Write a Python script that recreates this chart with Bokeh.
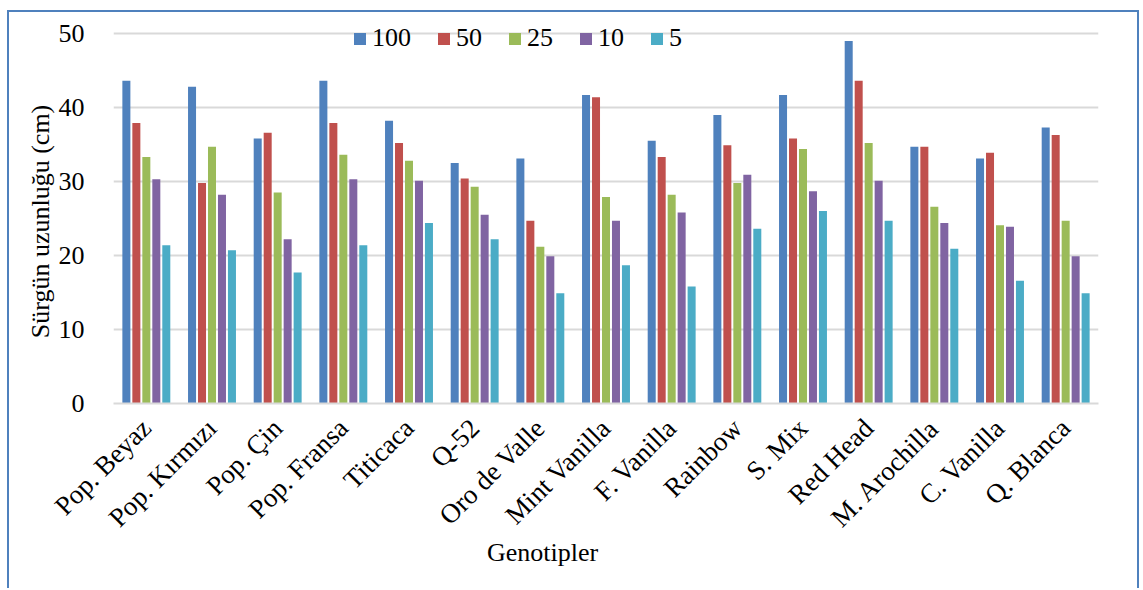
import math
from bokeh.plotting import figure
from bokeh.models import (ColumnDataSource, FixedTicker, Legend, LegendItem,
                          LinearAxis, Range1d)
from bokeh.embed import file_html
from bokeh.resources import INLINE

# Shoot length (cm) of each genotype at five dose levels
genotypes = [
    "Pop. Beyaz", "Pop. Kırmızı", "Pop. Çin", "Pop. Fransa", "Titicaca",
    "Q-52", "Oro de Valle", "Mint Vanilla", "F. Vanilla", "Rainbow",
    "S. Mix", "Red Head", "M. Arochilla", "C. Vanilla", "Q. Blanca",
]
dose_labels = ["100", "50", "25", "10", "5"]

d100 = [43.6, 42.8, 35.8, 43.6, 38.2, 32.5, 33.1, 41.7, 35.5, 39.0, 41.7, 49.0, 34.7, 33.1, 37.3]
d50 = [37.9, 29.8, 36.6, 37.9, 35.2, 30.4, 24.7, 41.4, 33.3, 34.9, 35.8, 43.6, 34.7, 33.9, 36.3]
d25 = [33.3, 34.7, 28.5, 33.6, 32.8, 29.3, 21.2, 27.9, 28.2, 29.8, 34.4, 35.2, 26.6, 24.1, 24.7]
d10 = [30.3, 28.2, 22.2, 30.3, 30.1, 25.5, 19.9, 24.7, 25.8, 30.9, 28.7, 30.1, 24.4, 23.9, 19.9]
d5 = [21.4, 20.7, 17.7, 21.4, 24.4, 22.2, 14.9, 18.7, 15.8, 23.6, 26.0, 24.7, 20.9, 16.6, 14.9]

series = [d100, d50, d25, d10, d5]
colors = ["#4F81BD", "#C0504D", "#9BBB59", "#8064A2", "#4BACC6"]
y_ticks = [0, 10, 20, 30, 40, 50]

FONT = "'Liberation Serif', 'Times New Roman', serif"
FS = "26px"

# each genotype occupies two x units; its slot centre is at 2*i + 1
centers = [2 * i + 1 for i in range(len(genotypes))]
step = 0.304
bar_w = 0.244
src = ColumnDataSource(dict(
    **{f"d{lab}": vals for lab, vals in zip(dose_labels, series)},
    **{f"x{lab}": [c + (k - 2) * step for c in centers] for k, lab in enumerate(dose_labels)},
))

# the frame reaches a little above 50 so the legend row fits inside it
p = figure(
    x_range=Range1d(0, 2 * len(genotypes)),
    y_range=Range1d(0, 52.57),
    width=1132, height=578,
    output_backend="svg", toolbar_location=None,
    min_border_left=104, min_border_right=43,
    min_border_top=2, min_border_bottom=187,
)
p.styles = {
    "margin-left": "7px", "margin-top": "10px",
    "border-left": "2px solid #4F81BD",
    "border-top": "2px solid #4F81BD",
    "border-right": "2px solid #4F81BD",
}
p.outline_line_color = None
p.background_fill_color = "white"
p.border_fill_color = "white"

items = []
for lab, col in zip(dose_labels, colors):
    r = p.vbar(x=f"x{lab}", top=f"d{lab}", width=bar_w, bottom=0,
               source=src, fill_color=col, line_color=None)
    items.append(LegendItem(label=lab, renderers=[r]))

legend = Legend(
    items=items, orientation="horizontal", location=(239, 350),
    glyph_width=15, glyph_height=15, label_standoff=5, spacing=25,
    padding=0, margin=0, border_line_color=None, background_fill_alpha=0,
    label_text_font=FONT, label_text_font_size=FS, label_text_color="black",
)
p.add_layout(legend, "center")

# grid
p.xgrid.grid_line_color = None
p.ygrid.grid_line_color = "#D9D9D9"
p.ygrid.grid_line_width = 2
p.yaxis.ticker = FixedTicker(ticks=y_ticks)

# y axis
p.yaxis.axis_line_color = None
p.yaxis.major_tick_line_color = None
p.yaxis.minor_tick_line_color = None
p.yaxis.major_label_standoff = 23
p.yaxis.major_label_text_font = FONT
p.yaxis.major_label_text_font_size = FS
p.yaxis.major_label_text_color = "black"

# x axis: genotype names at the slot centres
p.xaxis.ticker = FixedTicker(ticks=centers)
p.xaxis.major_label_overrides = dict(zip(centers, genotypes))
p.xaxis.axis_line_color = "#D9D9D9"
p.xaxis.axis_line_width = 2
p.xaxis.major_tick_line_color = None
p.xaxis.minor_tick_line_color = None
p.xaxis.major_label_orientation = math.pi / 4
p.xaxis.major_label_standoff = 14
p.xaxis.major_label_text_font = FONT
p.xaxis.major_label_text_font_size = "27px"
p.xaxis.major_label_text_color = "black"

# Axis titles are set as single tick labels on pixel-scaled helper axes,
# so they can sit off the frame's centre line.
p.extra_x_ranges = {"px_x": Range1d(0, 985)}
p.extra_y_ranges = {"px_y": Range1d(0, 389)}


def title_axis(axis, pos, text, standoff, orientation):
    axis.ticker = FixedTicker(ticks=[pos])
    axis.major_label_overrides = {pos: text}
    axis.axis_line_color = None
    axis.major_tick_line_color = None
    axis.minor_tick_line_color = None
    axis.major_label_standoff = standoff
    axis.major_label_orientation = orientation
    axis.major_label_text_font = FONT
    axis.major_label_text_font_size = FS
    axis.major_label_text_color = "black"
    return axis


xt = title_axis(LinearAxis(x_range_name="px_x"), 429, "Genotipler", -15, "horizontal")
yt = title_axis(LinearAxis(y_range_name="px_y"), 182, "Sürgün uzunluğu (cm)", -5, "vertical")
p.add_layout(xt, "below")
p.add_layout(yt, "left")

open("out.html", "w").write(file_html(p, INLINE))
